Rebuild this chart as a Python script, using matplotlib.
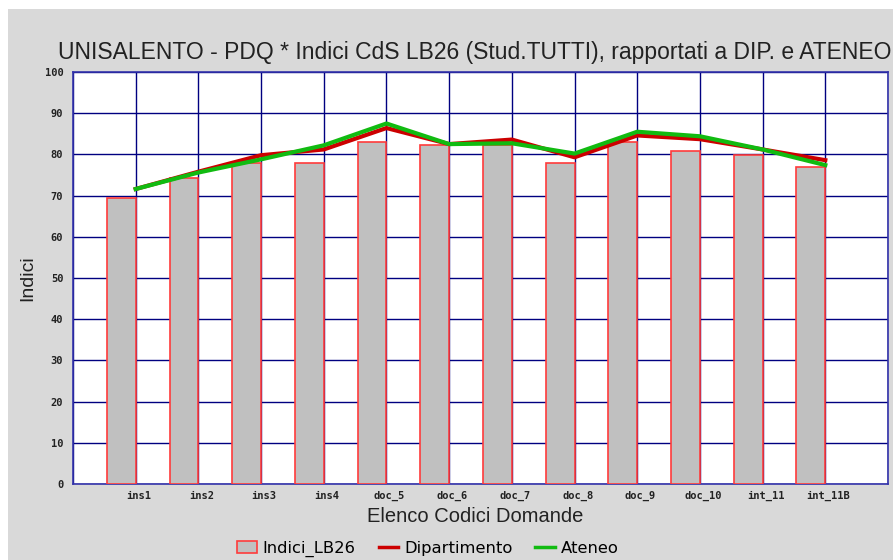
import numpy as np
import matplotlib.pyplot as plt
from matplotlib.patches import Rectangle, Patch
from matplotlib.lines import Line2D

codici = ["ins1", "ins2", "ins3", "ins4", "doc_5", "doc_6", "doc_7",
          "doc_8", "doc_9", "doc_10", "int_11", "int_11B"]
indici_lb26 = [69.3, 74.2, 78.0, 78.0, 83.1, 82.3, 82.3, 78.0, 83.1, 80.9, 79.9, 77.0]
dipartimento = [71.6, 75.8, 79.8, 81.2, 86.4, 82.5, 83.6, 79.3, 84.6, 83.7, 81.2, 78.6]
ateneo = [71.6, 75.6, 78.8, 82.2, 87.5, 82.5, 82.7, 80.2, 85.5, 84.4, 81.2, 77.4]

fig = plt.figure(figsize=(8.93, 5.60), dpi=100, facecolor="white")
# grey panel (thin white strip left and top as in the original)
fig.patches.append(Rectangle((8 / 893, 0), 1, 1 - 9 / 560, transform=fig.transFigure,
                             facecolor="#d9d9d9", edgecolor="none", zorder=-10))

ax = fig.add_axes([73 / 893, 1 - 484 / 560, 815 / 893, 412 / 560])
ax.set_facecolor("white")

x = np.arange(1, len(codici) + 1)
ax.bar(x, indici_lb26, width=-0.46, align="edge", color="#c0c0c0",
       edgecolor="#ff3b3b", linewidth=1.2, zorder=3)
ax.plot(x, dipartimento, color="#cc0000", linewidth=3, zorder=4)
ax.plot(x, ateneo, color="#11bb11", linewidth=3, zorder=5)

ax.set_xlim(0, 13)
ax.set_ylim(0, 100)
ax.set_xticks(np.arange(0, 14), minor=False)
ax.set_xticklabels([])
ax.set_xticks(x + 0.05, minor=True)
ax.set_xticklabels(codici, minor=True, fontsize=7.5, family="DejaVu Sans Mono",
                   fontweight="bold", color="#222222")
ax.tick_params(axis="x", which="both", length=0, pad=5)
ax.set_yticks(np.arange(0, 101, 10))
ax.set_yticklabels([str(v) for v in range(0, 101, 10)], fontsize=7.5,
                   family="DejaVu Sans Mono", fontweight="bold", color="#222222")
ax.tick_params(axis="y", length=0, pad=7)
ax.grid(True, which="major", color="#000080", linewidth=1, zorder=1)
ax.set_axisbelow(True)
for s in ax.spines.values():
    s.set_color("#3333aa")
    s.set_linewidth(1.2)

fig.text(58 / 893, 1 - 52 / 560, "UNISALENTO - PDQ * Indici CdS LB26 (Stud.TUTTI), rapportati a DIP. e ATENEO",
         fontsize=16.5, family="Liberation Sans", color="#222222", ha="left", va="center")
fig.text(28 / 893, 1 - 278 / 560, "Indici", fontsize=14, family="Liberation Sans",
         color="#222222", rotation=90, ha="center", va="center")
fig.text(475 / 893, 1 - 517 / 560, "Elenco Codici Domande", fontsize=14.5,
         family="Liberation Sans", color="#222222", ha="center", va="center")

handles = [Patch(facecolor="#c0c0c0", edgecolor="#ff3b3b", linewidth=1.2),
           Line2D([], [], color="#cc0000", linewidth=2.5),
           Line2D([], [], color="#11bb11", linewidth=2.5)]
fig.legend(handles, ["Indici_LB26", "Dipartimento", "Ateneo"], loc="center",
           bbox_to_anchor=(428 / 893, 1 - 549 / 560), ncol=3, frameon=False,
           handlelength=1.2, handletextpad=0.35, columnspacing=1.4,
           prop={"family": "DejaVu Sans", "size": 11.8})

fig.savefig("out.png", dpi=100, facecolor=fig.get_facecolor())
